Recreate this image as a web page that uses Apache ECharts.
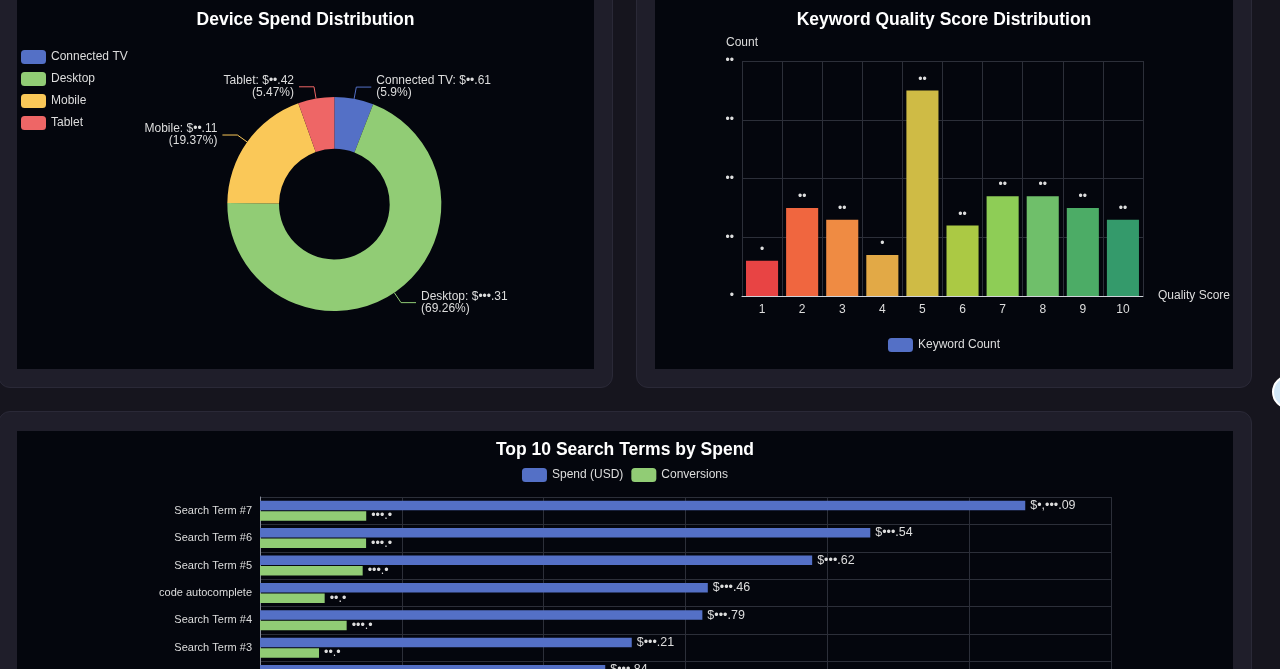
<!DOCTYPE html>
<html>
<head>
<meta charset="utf-8">
<script src="https://cdn.jsdelivr.net/npm/echarts@6/dist/echarts.min.js"></script>
<style>
  html, body { margin:0; padding:0; width:1280px; height:669px; overflow:hidden; background:#16151e; font-family:'Liberation Sans', Arial, sans-serif; }
  .card { position:absolute; background:#1f1e2a; border:1px solid #2a2937; border-radius:12px; box-sizing:border-box; }
  .chart { position:absolute; background:#04060d; }
  .fab { position:absolute; left:1272px; top:375px; width:34px; height:34px; border-radius:50%; background:#d3e8f8; border:2px solid #ffffff; box-sizing:border-box; }
</style>
</head>
<body>
<div class="card" style="left:-2px; top:-40px; width:615px; height:428px;"></div>
<div class="card" style="left:636px; top:-40px; width:616px; height:428px;"></div>
<div class="card" style="left:-2px; top:411px; width:1254px; height:520px;"></div>
<div id="pie" class="chart" style="left:17px; top:0px; width:577px; height:369px;"></div>
<div id="kw" class="chart" style="left:655px; top:0px; width:578px; height:369px;"></div>
<div id="terms" class="chart" style="left:17px; top:431px; width:1216px; height:420px;"></div>
<div class="fab"></div>
<script>
// ---- data ----
const deviceNames = ['Connected TV', 'Desktop', 'Mobile', 'Tablet'];
const deviceSpend = [29.61, 347.31, 97.11, 27.42];
const deviceColors = ['#5470c6', '#91cc75', '#fac858', '#ee6666'];

const qualityScores = ['1', '2', '3', '4', '5', '6', '7', '8', '9', '10'];
const keywordCounts = [6, 15, 13, 7, 35, 12, 17, 17, 15, 13];
const qualityColors = ['#e84444', '#f0663f', '#ef8b43', '#e2a946', '#cfbb45', '#abc944', '#8ecd56', '#6fbf6a', '#4cac66', '#349a6b'];
const countTicks = [0, 10, 20, 30, 40];

// bottom-to-top order of the category axis
const searchTerms = ['Search Term #9', 'Search Term #8', 'Search Term #1', 'Search Term #2', 'Search Term #3', 'Search Term #4', 'code autocomplete', 'Search Term #5', 'Search Term #6', 'Search Term #7'];
const termSpend = [402.17, 431.58, 458.30, 486.84, 524.21, 623.79, 631.46, 778.62, 860.54, 1079.09];
const termConversions = [64.3, 70.8, 77.5, 96.4, 83.2, 122.2, 91.2, 144.8, 149.6, 149.8];

// ---- helpers ----
const FONT = "'Liberation Sans', Arial, sans-serif";
function mask(s) { return String(s).replace(/\d/g, '\u2022'); }
function money(v) {
  const parts = v.toFixed(2).split('.');
  return '$' + mask(Number(parts[0]).toLocaleString('en-US')) + '.' + parts[1];
}

// ---- pie ----
const pie = echarts.init(document.getElementById('pie'));
pie.setOption({
  backgroundColor: 'transparent',
  textStyle: { fontFamily: FONT },
  color: deviceColors,
  title: { text: 'Device Spend Distribution', left: 'center', top: 6,
    textStyle: { color: '#ffffff', fontSize: 17.5, fontWeight: 'bold', fontFamily: FONT } },
  legend: { orient: 'vertical', left: -1, top: 45, itemWidth: 25, itemHeight: 14, itemGap: 8,
    icon: 'roundRect', textStyle: { color: '#dddddd', fontSize: 12 }, data: deviceNames },
  series: [{
    type: 'pie', radius: ['30%', '58%'], center: ['55%', '55.3%'],
    data: deviceNames.map((n, i) => ({ name: n, value: deviceSpend[i] })),
    label: { color: '#dddddd', fontSize: 12, lineHeight: 12,
      formatter: p => p.name + ': ' + money(p.value) + '\n(' + p.percent + '%)' },
    labelLine: { length: 12, length2: 15 }
  }]
});

// ---- keyword quality bars ----
const kw = echarts.init(document.getElementById('kw'));
kw.setOption({
  backgroundColor: 'transparent',
  textStyle: { fontFamily: FONT },
  title: { text: 'Keyword Quality Score Distribution', left: 'center', top: 6,
    textStyle: { color: '#ffffff', fontSize: 17.5, fontWeight: 'bold', fontFamily: FONT } },
  legend: { bottom: 12, left: 'center', itemWidth: 25, itemHeight: 14, icon: 'roundRect',
    textStyle: { color: '#dddddd', fontSize: 12 }, data: ['Keyword Count'] },
  grid: { left: 87, right: 90, top: 61, bottom: 73 },
  xAxis: { type: 'category', data: qualityScores, name: 'Quality Score',
    nameTextStyle: { color: '#dddddd', fontSize: 12 },
    axisLine: { lineStyle: { color: '#cfd2d8' } }, axisTick: { show: false },
    axisLabel: { color: '#dddddd', fontSize: 12 },
    splitLine: { show: true, lineStyle: { color: '#2c2f39' } } },
  yAxis: { type: 'value', min: countTicks[0], max: countTicks[countTicks.length - 1], interval: 10, name: 'Count',
    nameGap: 12,
    nameTextStyle: { color: '#dddddd', fontSize: 12 },
    axisLabel: { color: '#dddddd', fontSize: 12, formatter: v => mask(v) },
    splitLine: { lineStyle: { color: '#2c2f39' } } },
  series: [{
    name: 'Keyword Count', type: 'bar', barCategoryGap: '20%',
    itemStyle: { color: '#5470c6' },
    data: keywordCounts.map((v, i) => ({ value: v, itemStyle: { color: qualityColors[i] } })),
    label: { show: true, position: 'top', color: '#dddddd', fontSize: 12, formatter: p => mask(p.value) }
  }]
});

// ---- top search terms ----
const terms = echarts.init(document.getElementById('terms'));
terms.setOption({
  backgroundColor: 'transparent',
  textStyle: { fontFamily: FONT },
  color: ['#5470c6', '#91cc75'],
  title: { text: 'Top 10 Search Terms by Spend', left: 'center', top: 5,
    textStyle: { color: '#ffffff', fontSize: 17.5, fontWeight: 'bold', fontFamily: FONT } },
  legend: { top: 32, left: 'center', itemWidth: 25, itemHeight: 14, icon: 'roundRect',
    textStyle: { color: '#dddddd', fontSize: 12 }, data: ['Spend (USD)', 'Conversions'] },
  grid: { left: 243, right: 122, top: 66, height: 274 },
  xAxis: { type: 'value', min: 0, max: 1200, interval: 200,
    axisLabel: { color: '#dddddd', fontSize: 11, formatter: v => '$' + mask(v.toLocaleString('en-US')) },
    splitLine: { lineStyle: { color: '#2c2f39' } } },
  yAxis: { type: 'category', data: searchTerms,
    axisLine: { lineStyle: { color: '#8a8f9c' } }, axisTick: { show: false },
    axisLabel: { color: '#dddddd', fontSize: 11 },
    splitLine: { show: true, lineStyle: { color: '#2c2f39' } } },
  series: [
    { name: 'Spend (USD)', type: 'bar', data: termSpend,
      label: { show: true, position: 'right', color: '#dddddd', fontSize: 12.5, formatter: p => money(p.value) } },
    { name: 'Conversions', type: 'bar', data: termConversions,
      label: { show: true, position: 'right', color: '#dddddd', fontSize: 12.5, formatter: p => mask(p.value.toFixed(1)) } }
  ]
});
</script>
</body>
</html>
